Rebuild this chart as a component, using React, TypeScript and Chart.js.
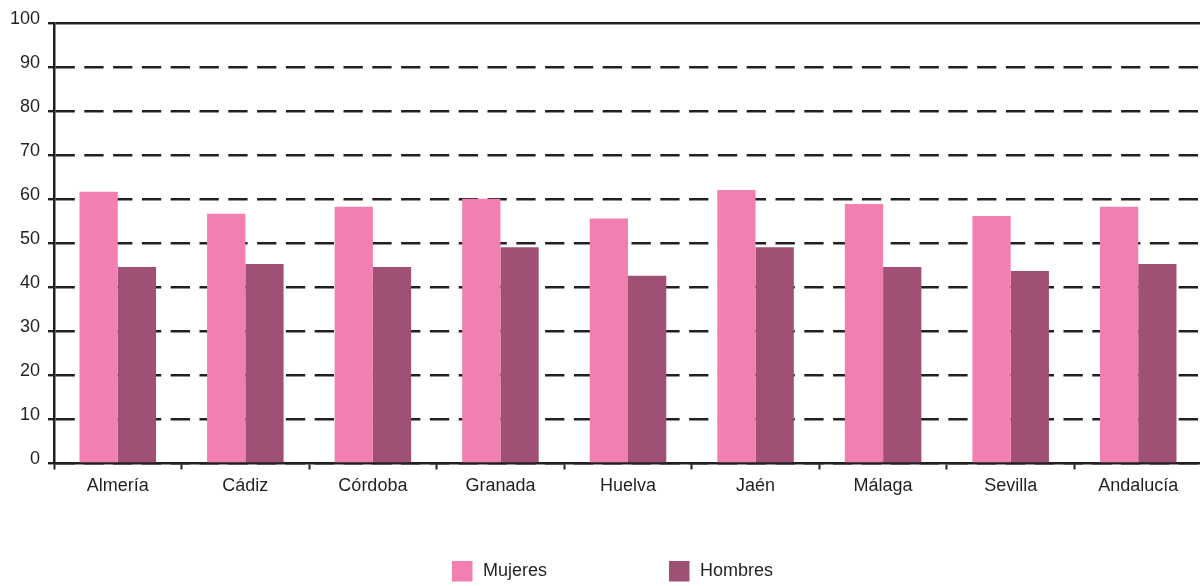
import React, { useEffect, useRef } from "react";
import { Chart, registerables } from "chart.js";

Chart.register(...registerables);

const categories = ["Almería", "Cádiz", "Córdoba", "Granada", "Huelva", "Jaén", "Málaga", "Sevilla", "Andalucía"];
const mujeres = [61.7, 56.7, 58.3, 60.1, 55.6, 62.1, 58.9, 56.2, 58.3];
const hombres = [44.6, 45.3, 44.6, 49.1, 42.6, 49.1, 44.6, 43.7, 45.3];
const seriesNames = ["Mujeres", "Hombres"];
const yTicks = [0, 10, 20, 30, 40, 50, 60, 70, 80, 90, 100];

const PINK = "#f27eb2";
const PURPLE = "#a05075";
const INK = "#231f20";
const FONT = "'Liberation Sans', Arial, Helvetica, sans-serif";

const legendPlugin = {
  id: "customLegend",
  afterDraw(chart: any) {
    const ctx = chart.ctx;
    ctx.save();
    ctx.font = `18px ${FONT}`;
    ctx.textBaseline = "middle";
    ctx.textAlign = "left";
    const starts = [452, 669];
    chart.data.datasets.forEach((ds: any, i: number) => {
      const x = starts[i];
      ctx.fillStyle = ds.backgroundColor;
      ctx.fillRect(x, 561, 20.5, 20.5);
      ctx.fillStyle = INK;
      ctx.fillText(ds.label, x + 31, 571);
    });
    ctx.restore();
  },
};

export default function App() {
  const ref = useRef<HTMLCanvasElement | null>(null);
  useEffect(() => {
    document.body.style.margin = "0";
    document.body.style.overflow = "hidden";
    if (!ref.current) return;
    const chart = new Chart(ref.current, {
      type: "bar",
      data: {
        labels: categories,
        datasets: [
          { label: seriesNames[0], data: mujeres, backgroundColor: PINK, borderWidth: 0 },
          { label: seriesNames[1], data: hombres, backgroundColor: PURPLE, borderWidth: 0 },
        ],
      },
      options: {
        animation: false,
        responsive: false,
        maintainAspectRatio: false,
        layout: { padding: { top: 23, left: 0, right: 0, bottom: 0 } },
        plugins: { legend: { display: false }, tooltip: { enabled: false } },
        datasets: { bar: { categoryPercentage: 0.6, barPercentage: 1.0 } },
        scales: {
          x: {
            grid: {
              display: true,
              drawOnChartArea: false,
              drawTicks: true,
              tickLength: 6,
              tickColor: INK,
              tickWidth: 2,
              offset: true,
            },
            border: { display: true, color: INK, width: 2.5 },
            ticks: {
              color: INK,
              font: { family: FONT, size: 18 },
              padding: 6,
              maxRotation: 0,
              autoSkip: false,
            },
            afterFit: (scale: any) => {
              scale.height = 586 - 463.5;
            },
          },
          y: {
            min: 0,
            max: 100,
            afterBuildTicks: (scale: any) => {
              scale.ticks = yTicks.map((v) => ({ value: v }));
            },
            grid: {
              display: true,
              drawOnChartArea: true,
              drawTicks: true,
              tickLength: 6,
              color: INK,
              lineWidth: 2.4,
              tickColor: INK,
              tickWidth: 2.4,
            },
            border: {
              display: true,
              color: INK,
              width: 2.5,
              dash: (ctx: any) => (ctx.tick && ctx.tick.value === 100 ? [] : [19.3, 9.5]),
            } as any,
            ticks: {
              color: INK,
              font: { family: FONT, size: 18 },
              padding: 8,
              labelOffset: -4,
            },
            afterFit: (scale: any) => {
              scale.width = 54;
            },
          },
        },
      },
      plugins: [legendPlugin],
    });
    return () => chart.destroy();
  }, []);
  return (
    <div style={{ width: 1202, height: 586, overflow: "hidden" }}>
      <canvas ref={ref} width={1202} height={586} style={{ display: "block" }} />
    </div>
  );
}
